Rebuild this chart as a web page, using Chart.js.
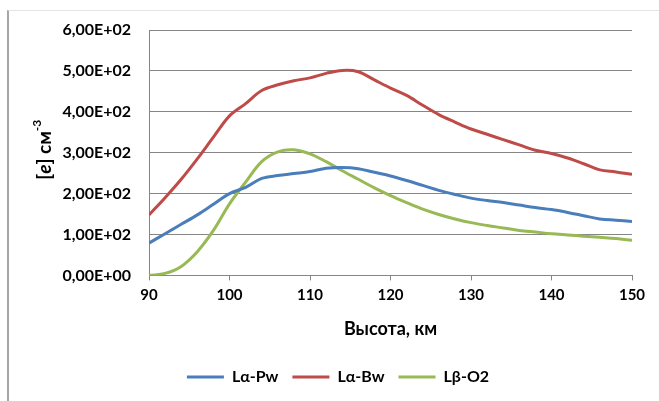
<!DOCTYPE html>
<html>
<head>
<meta charset="utf-8">
<script src="https://cdn.jsdelivr.net/npm/chart.js@4"></script>
<style>
  html, body { margin: 0; padding: 0; background: #fff; }
  #wrap { position: relative; width: 659px; height: 401px; }
  #frame { position: absolute; left: 7px; top: 10px; width: 652px; height: 391px;
           border-left: 2px solid #a6a6a6; border-top: 1px solid #e4e4e4; box-sizing: border-box; }
  canvas { position: absolute; left: 0; top: 0; }
</style>
</head>
<body>
<div id="wrap">
  <div id="frame"></div>
  <canvas id="eChart" width="659" height="401"></canvas>
</div>
<script>
// Altitude profiles of electron density
const heights = [90, 92, 94, 96, 98, 100, 102, 104, 106, 108, 110, 112, 114, 116, 118, 120,
  122, 124, 126, 128, 130, 132, 134, 136, 138, 140, 142, 144, 146, 148, 150];
const laPw = [79, 102, 125, 148, 174, 200, 215, 237, 244, 249, 254, 262, 264, 261, 252, 243,
  232, 220, 208, 198, 189, 183, 178, 172, 166, 161, 154, 146, 138, 135, 132];
const laBw = [148, 190, 235, 285, 338, 390, 420, 452, 466, 476, 483, 494, 501, 498, 478, 458,
  440, 416, 393, 375, 358, 345, 332, 319, 306, 298, 287, 273, 258, 253, 247];
const lbO2 = [0, 5, 22, 58, 110, 175, 228, 278, 302, 307, 297, 278, 256, 235, 214, 195,
  178, 162, 149, 138, 129, 122, 116, 110, 106, 102, 99, 96, 93, 90, 86];
const seriesNames = ["Lα-Pw", "Lα-Bw", "Lβ-O2"];
const seriesColors = ["#4a7ebb", "#be4b48", "#98b954"];

const fontFamily = "Lato, 'Open Sans', sans-serif";

function pts(vals) {
  return vals.map((v, i) => ({ x: heights[i], y: v }));
}

// y axis title "[e] см-3" with italic e and superscript
const yTitle = {
  id: "yTitle",
  afterDraw(chart) {
    const c = chart.ctx;
    const a = chart.chartArea;
    const parts = [
      { t: "[", f: "bold 19px " + fontFamily, dy: 0 },
      { t: "e", f: "italic bold 19px " + fontFamily, dy: 0 },
      { t: "] см", f: "bold 19px " + fontFamily, dy: 0 },
      { t: "-3", f: "bold 12px " + fontFamily, dy: -8 },
    ];
    let total = 0;
    parts.forEach((p) => { c.font = p.f; p.w = c.measureText(p.t).width; total += p.w; });
    c.save();
    c.translate(45, (a.top + a.bottom) / 2 - 3);
    c.rotate(-Math.PI / 2);
    c.fillStyle = "#000";
    c.textBaseline = "middle";
    let x = -total / 2;
    parts.forEach((p) => { c.font = p.f; c.fillText(p.t, x, p.dy); x += p.w; });
    c.restore();
  },
};

const ctx = document.getElementById("eChart");
new Chart(ctx, {
  type: "line",
  data: {
    datasets: [laPw, laBw, lbO2].map((vals, i) => ({
      label: seriesNames[i],
      data: pts(vals),
      borderColor: seriesColors[i],
      backgroundColor: seriesColors[i],
      borderWidth: 3,
      pointRadius: 0,
      tension: 0.35,
    })),
  },
  options: {
    responsive: false,
    animation: false,
    layout: { padding: { left: 44, top: 30, right: 27, bottom: 6 } },
    plugins: {
      legend: {
        position: "bottom",
        labels: {
          boxWidth: 37,
          boxHeight: 3,
          padding: 14,
          color: "#000",
          font: { family: fontFamily, size: 16, weight: "bold" },
          generateLabels: (chart) =>
            Chart.defaults.plugins.legend.labels.generateLabels(chart).map((l) => ({ ...l, lineWidth: 0 })),
        },
      },
      tooltip: { enabled: false },
    },
    scales: {
      x: {
        type: "linear",
        min: 90,
        max: 150,
        ticks: { stepSize: 10, padding: 6, color: "#000", font: { family: fontFamily, size: 15, weight: "bold" } },
        grid: { drawOnChartArea: false, drawTicks: true, tickLength: 5, color: "#868686" },
        border: { color: "#868686", width: 1 },
        title: {
          display: true,
          text: "Высота, км",
          color: "#000",
          padding: { top: 8, bottom: 15 },
          font: { family: fontFamily, size: 18, weight: "bold" },
        },
      },
      y: {
        min: 0,
        max: 600,
        afterFit: (scale) => { scale.width = 105; },
        ticks: {
          stepSize: 100,
          padding: 18,
          color: "#000",
          font: { family: fontFamily, size: 16, weight: "bold" },
          callback: (v) => {
            const e = v === 0 ? 0 : Math.floor(Math.log10(v));
            const m = v === 0 ? 0 : v / Math.pow(10, e);
            return m.toFixed(2).replace(".", ",") + "E+" + String(e).padStart(2, "0");
          },
        },
        grid: { drawTicks: false, color: "#868686" },
        border: { color: "#868686", width: 1 },
      },
    },
  },
  plugins: [yTitle],
});
</script>
</body>
</html>
